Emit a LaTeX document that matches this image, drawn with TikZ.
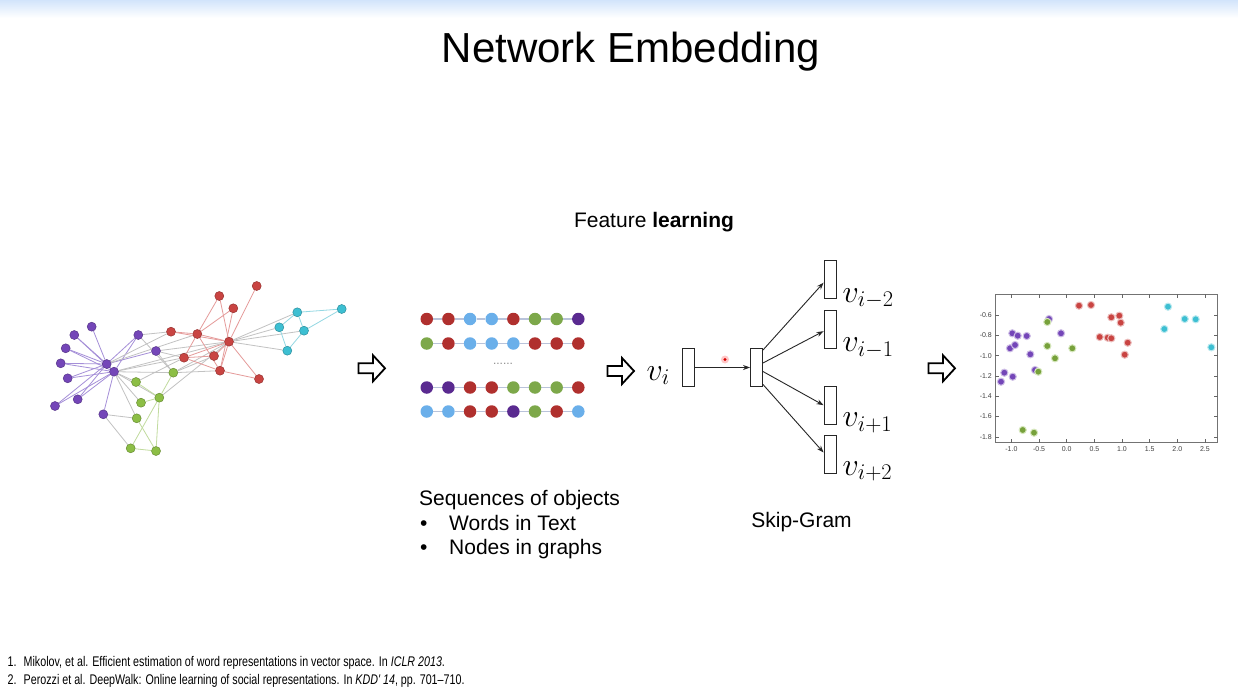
\RequirePackage{fix-cm}
\documentclass[tikz,border=0pt]{standalone}
\usepackage{fontspec}
\setmainfont{Liberation Sans}
\newfontfamily\notefont[FakeStretch=0.765]{Liberation Sans}
\usetikzlibrary{arrows.meta}

\definecolor{gPur}{HTML}{7446B8}
\definecolor{gRed}{HTML}{C94442}
\definecolor{gGrn}{HTML}{8CBE45}
\definecolor{gCya}{HTML}{3DBFD2}
\definecolor{ePur}{HTML}{A58FD8}
\definecolor{eRed}{HTML}{E59B9A}
\definecolor{eGrn}{HTML}{C1DB9E}
\definecolor{eCya}{HTML}{94D8E3}
\definecolor{eMix}{HTML}{C2C2C2}
\definecolor{sqRed}{HTML}{B0302E}
\definecolor{sqGrn}{HTML}{7DA84A}
\definecolor{sqBlu}{HTML}{6AAFEA}
\definecolor{sqPur}{HTML}{5A2A90}
\definecolor{sqLine}{HTML}{B9C3DA}
\definecolor{topBlue}{HTML}{D2E4FB}

\pgfdeclarelayer{bg}
\pgfdeclarelayer{edges}
\pgfsetlayers{bg,edges,main}

\tikzset{
  gnode/.style={circle, inner sep=0pt, minimum size=9pt, line width=0.5pt},
  gp/.style={gnode, fill=gPur, draw=gPur!75!black},
  gr/.style={gnode, fill=gRed, draw=gRed!75!black},
  gg/.style={gnode, fill=gGrn, draw=gGrn!75!black},
  gc/.style={gnode, fill=gCya, draw=gCya!75!black},
  ep/.style={draw=ePur, line width=0.8pt},
  er/.style={draw=eRed, line width=0.8pt},
  eg/.style={draw=eGrn, line width=0.8pt},
  ec/.style={draw=eCya, line width=0.8pt},
  ex/.style={draw=eMix, line width=0.8pt},
  sq/.style={circle, inner sep=0pt, minimum size=12.5pt},
  sR/.style={sq, fill=sqRed},
  sG/.style={sq, fill=sqGrn},
  sB/.style={sq, fill=sqBlu},
  sP/.style={sq, fill=sqPur},
  vbox/.style={draw=black!85, line width=0.9pt, inner sep=0pt, minimum width=12pt, minimum height=38pt},
  arr/.style={draw=black!85, line width=0.9pt, -{Stealth[length=7pt,width=5pt]}},
  vlab/.style={anchor=base west, inner sep=0pt, font=\fontsize{32}{38}\selectfont},
  hollow/.style={draw=black, line width=1.8pt, line join=miter, fill=white},
  tick/.style={draw=black!60, line width=0.6pt},
  ticklab/.style={font=\fontsize{7}{8}\selectfont, text=black!75, inner sep=0pt},
  note/.style={anchor=base west, inner sep=0pt, font=\notefont\fontsize{14}{16}\selectfont},
  body/.style={anchor=base west, inner sep=0pt, font=\fontsize{21}{25}\selectfont},
}

\begin{document}
\begin{tikzpicture}[x=1pt,y=-1pt]
\useasboundingbox (0,0) rectangle (1238,695);
\begin{pgfonlayer}{bg}
  \fill[white] (0,0) rectangle (1238,695);
  \shade[top color=topBlue, bottom color=white] (0,0) rectangle (1238,18);
\end{pgfonlayer}

% ---------- title ----------
\node[anchor=base, inner sep=0pt, font=\fontsize{42}{50}\selectfont] (title) at (631,63) {Network Embedding};
\node[anchor=base, inner sep=0pt, font=\fontsize{21}{25}\selectfont] (feat) at (654,227) {Feature \textbf{learning}};

% ---------- input graph ----------
\node[gp] (pa) at (91.7,326.7) {};
\node[gp] (pb) at (74.3,335) {};
\node[gp] (pc) at (65.7,348.3) {};
\node[gp] (pd) at (60.7,363.3) {};
\node[gp] (pe) at (67.7,378.3) {};
\node[gp] (pf) at (55,406) {};
\node[gp] (pg) at (77.7,399.3) {};
\node[gp] (ph) at (103.3,414.3) {};
\node[gp] (P1) at (106.7,364) {};
\node[gp] (P2) at (114,371.7) {};
\node[gp] (pi) at (138.3,335) {};
\node[gp] (pj) at (156,351) {};

\node[gg] (ga) at (136,382) {};
\node[gg] (gb) at (173.3,372.7) {};
\node[gg] (gc) at (159.3,397.7) {};
\node[gg] (gd) at (141,402.7) {};
\node[gg] (ge) at (136.7,418.3) {};
\node[gg] (gf) at (130.7,448.3) {};
\node[gg] (gh) at (156,451) {};

\node[gr] (ra) at (171,331.7) {};
\node[gr] (rb) at (197.3,334) {};
\node[gr] (rc) at (219.3,296) {};
\node[gr] (rd) at (233.3,308.3) {};
\node[gr] (re) at (256.7,286) {};
\node[gr] (R1) at (229,341.7) {};
\node[gr] (rf) at (184,357.7) {};
\node[gr] (rg) at (214,356) {};
\node[gr] (rh) at (220,370.7) {};
\node[gr] (ri) at (259,379) {};

\node[gc] (ca) at (297.3,312.3) {};
\node[gc] (cb) at (341.7,309) {};
\node[gc] (cc) at (279.3,327.3) {};
\node[gc] (cd) at (304,330.7) {};
\node[gc] (ce) at (287.3,350.7) {};

\begin{pgfonlayer}{edges}
  \foreach \a in {pa,pb,pc,pd,pe,pf,pg,pi,pj,P2}
    \path[ep] (P1) -- (\a);
  \foreach \a in {pb,pc,pd,pe,pf,pg,ph,pi}
    \path[ep] (P2) -- (\a);
  \foreach \a/\b in {P1/ra,P1/rb,P2/R1,P2/rf,pi/ra,pj/R1,pj/rf,P2/gb}
    \path[ex] (\a) -- (\b);
  \foreach \a/\b in {P2/ga,P2/gd,P2/ge,P2/gc,ph/ge,ph/gf,pi/gb,pj/gb}
    \path[ex] (\a) -- (\b);
  \foreach \a/\b in {ga/gc,gc/gf,gc/gh,ge/gh,gf/gh,gc/gb,gd/gc}
    \path[eg] (\a) -- (\b);
  \foreach \a/\b in {gc/R1,gb/rh,gb/rg,gb/R1,ga/rf}
    \path[ex] (\a) -- (\b);
  \foreach \a/\b in {ra/rb,ra/R1,rb/R1,rb/rd,rb/rh,rb/rf,rc/R1,rc/rb,rd/rh,re/R1,R1/rf,R1/rg,R1/rh,R1/ri,rh/ri,rf/rh,rf/rg}
    \path[er] (\a) -- (\b);
  \foreach \a in {ca,cc,cd,ce}
    \path[ex] (R1) -- (\a);
  \foreach \a/\b in {ca/cb,ca/cc,ca/cd,cb/cd,cc/ce,cd/ce}
    \path[ec] (\a) -- (\b);
\end{pgfonlayer}

% ---------- hollow arrows ----------
\foreach \n/\x/\y in {h1/358.5/368.3, h2/607.5/371, h3/928.5/368.3}
  \draw[hollow] (\x,\y-5) -- (\x+14.5,\y-5) -- (\x+14.5,\y-13) -- (\x+26.5,\y)
    -- (\x+14.5,\y+13) -- (\x+14.5,\y+5) -- (\x,\y+5) -- cycle;

% ---------- walk sequences ----------
\foreach \c [count=\i] in {sR,sR,sB,sB,sR,sG,sG,sP}
  \node[\c] (a\i) at ({405.1+21.65*\i},319) {};
\foreach \c [count=\i] in {sG,sR,sB,sB,sB,sR,sR,sR}
  \node[\c] (b\i) at ({405.1+21.65*\i},343.5) {};
\foreach \c [count=\i] in {sP,sP,sR,sR,sG,sG,sG,sR}
  \node[\c] (c\i) at ({405.1+21.65*\i},387.5) {};
\foreach \c [count=\i] in {sB,sB,sR,sR,sP,sG,sR,sB}
  \node[\c] (d\i) at ({405.1+21.65*\i},411.5) {};
\begin{pgfonlayer}{edges}
  \foreach \i in {1,...,7}{
    \pgfmathtruncatemacro\j{\i+1}
    \foreach \r in {a,b,c,d}
      \draw[sqLine, line width=1.6pt] (\r\i) -- (\r\j);
  }
\end{pgfonlayer}
\node[inner sep=0pt, text=black!45, font=\fontsize{12}{12}\selectfont] (gap) at (503,363.5) {......};

\node[body] (seqt) at (419,505) {Sequences of objects};
\node[body] (bul1) at (420,530) {\textbullet};
\node[body] (wrd) at (449,530) {Words in Text};
\node[body] (bul2) at (420,554.5) {\textbullet};
\node[body] (nds) at (449,554.5) {Nodes in graphs};

% ---------- skip-gram ----------
\node[vlab] (vi) at (646.5,380) {$v_i$};
\node[vbox] (in) at (688.3,367.5) {};
\node[vbox] (hid) at (756.5,367.5) {};
\node[vbox] (o1) at (830,279.7) {};
\node[vbox] (o2) at (830,329.2) {};
\node[vbox] (o3) at (830,405.2) {};
\node[vbox] (o4) at (830,454.5) {};
\draw[arr] (in.east) -- (hid.west);
\draw[arr] ([yshift=-2pt]hid.north east) -- ([yshift=-3pt]o1.west);
\draw[arr] ([yshift=4.5pt]hid.east) -- ([yshift=-2pt]o2.west);
\draw[arr] ([yshift=-4pt]hid.east) -- (o3.west);
\draw[arr] ([yshift=2.5pt]hid.south east) -- ([yshift=2pt]o4.west);
\node[vlab] (l1) at (842.5,302) {$v_{i-2}$};
\node[vlab] (l2) at (842.5,351.5) {$v_{i-1}$};
\node[vlab] (l3) at (842.5,426.5) {$v_{i+1}$};
\node[vlab] (l4) at (842.5,475) {$v_{i+2}$};
\node[anchor=base, inner sep=0pt, font=\fontsize{21}{25}\selectfont] (sg) at (801.5,527) {Skip-Gram};
% pointer spot
\fill[red!70, opacity=0.3] (725,359.5) circle (4);
\fill[red!85!black] (725,359.5) circle (1.6);

% ---------- embedding scatter ----------
\draw[black!55, line width=0.9pt] (995,294) rectangle (1217.7,442.7);
\foreach \v/\t in {-0.6/-0.6,-0.8/-0.8,-1.0/-1.0,-1.2/-1.2,-1.4/-1.4,-1.6/-1.6,-1.8/-1.8}{
  \pgfmathsetmacro\yy{315-(\v+0.6)*101.5}
  \draw[tick] (995,\yy) -- (999,\yy);
  \draw[tick] (1217.7,\yy) -- (1213.7,\yy);
  \node[ticklab, anchor=east] at (992,\yy) {\t};
}
\foreach \v/\t in {-1.0/-1.0,-0.5/-0.5,0.0/0.0,0.5/0.5,1.0/1.0,1.5/1.5,2.0/2.0,2.5/2.5}{
  \pgfmathsetmacro\xx{1066.7+\v*55.3}
  \draw[tick] (\xx,442.7) -- (\xx,438.7);
  \draw[tick] (\xx,294) -- (\xx,298);
  \node[ticklab, anchor=north] at (\xx,446) {\t};
}
\foreach \x/\y in {1012.3/333.3,1017.7/335.7,1026.7/336,1010/348.3,1015/345,1030.3/354.3,1004.3/372.7,1001/381.7,1012.7/376.7,1035/370,1061/333.3,1049/319}
  \filldraw[fill=gPur, draw=gPur!35, line width=1pt] (\x,\y) circle (3.6);
\foreach \x/\y in {1047.3/322,1047.3/346,1055/358.3,1072.3/348.3,1038.3/371.7,1022.7/430,1034/432.7}
  \filldraw[fill=gGrn!85!black, draw=gGrn!35, line width=1pt] (\x,\y) circle (3.6);
\foreach \x/\y in {1079/305.7,1091/305,1111.3/317.3,1119.3/315.7,1120.7/322.7,1099.7/337,1107.7/337.7,1111.3/338.3,1127.7/342.7,1124.7/354.7}
  \filldraw[fill=gRed, draw=gRed!35, line width=1pt] (\x,\y) circle (3.6);
\foreach \x/\y in {1168/306.7,1184.7/319,1195.7/319.3,1164.3/329,1211.3/347.3}
  \filldraw[fill=gCya, draw=gCya!35, line width=1pt] (\x,\y) circle (3.6);

% ---------- references ----------
\node[note] (n1) at (7.5,666) {1.};
\node[note] (r1) at (23.5,666) {Mikolov, et al. Efficient estimation of word representations in vector space. In \textit{ICLR 2013}.};
\node[note] (n2) at (7.5,684) {2.};
\node[note] (r2) at (23.5,684) {Perozzi et al. DeepWalk: Online learning of social representations. In \textit{KDD' 14}, pp. 701–710.};
\end{tikzpicture}
\end{document}
